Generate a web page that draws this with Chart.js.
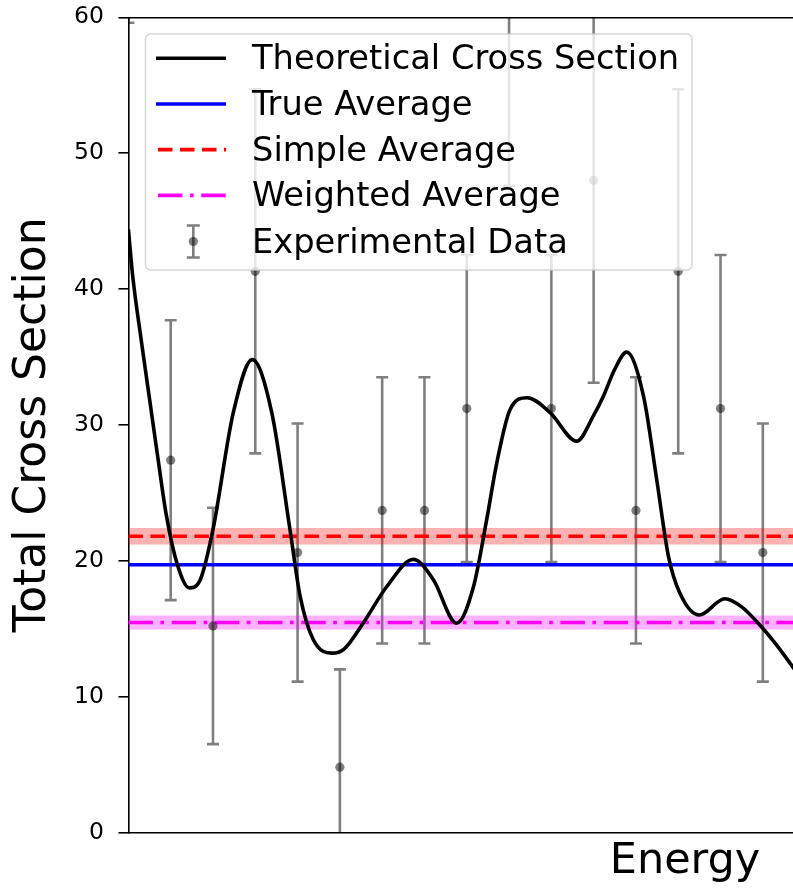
<!DOCTYPE html>
<html>
<head>
<meta charset="utf-8">
<script src="https://cdn.jsdelivr.net/npm/chart.js@4.4.1/dist/chart.umd.min.js"></script>
<style>
  html, body { margin: 0; padding: 0; background: #fff; }
  #wrap { width: 793px; height: 890px; overflow: hidden; position: relative; }
  canvas { display: block; }
</style>
</head>
<body>
<div id="wrap">
  <canvas id="crossChart" width="1250" height="890"></canvas>
</div>
<script>
// Energy axis runs past the cropped right edge (figure is cut at x ~ 15.7)
const X_MAX = 26.32;

// Theoretical cross section
const curveX = [0, 0.1, 0.3, 0.5, 0.7, 0.9, 1.15, 1.44, 1.7, 2.0, 2.48, 2.93, 3.39, 3.82, 4.06, 4.37, 4.81, 5.1, 5.55,
  6.11, 6.74, 7.21, 7.76, 8.16, 8.47, 8.71, 9.02, 9.43, 9.97, 10.6, 11.0, 11.23, 11.5, 11.78, 12.18, 12.49,
  12.77, 13.04, 13.5, 14.1, 14.5, 14.86, 15.3, 15.75];
const curveY = [44.4, 41.0, 36.3, 31.9, 27.5, 23.3, 19.8, 18.0, 18.6, 22.3, 30.9, 34.8, 30.9, 22.3, 17.4, 14.2, 13.2, 13.5, 15.4,
  18.1, 20.1, 18.6, 15.4, 18.1, 23.0, 27.2, 31.1, 32.0, 30.9, 28.8, 30.7, 32.1, 34.1, 35.35, 32.1, 26.0,
  20.3, 17.6, 16.0, 17.2, 16.6, 15.5, 13.9, 12.0];

// Experimental data with error bars
const expX = [0, 1, 2, 3, 4, 5, 6, 7, 8, 9, 10, 11, 12, 13, 14, 15];
const expY = [77, 27.4, 15.2, 41.3, 20.6, 4.8, 23.7, 23.7, 31.2, 63.3, 31.2, 48.0, 23.7, 41.3, 31.2, 20.6];
const expErr = [17.4, 10.3, 8.7, 13.4, 9.5, 7.2, 9.8, 9.8, 11.3, 15.7, 11.3, 14.9, 9.8, 13.4, 11.3, 9.5];

// Averages and their uncertainty bands
const trueAverage = 19.7;
const simpleAverage = 21.8;
const simpleAverageErr = 0.6;
const weightedAverage = 15.45;
const weightedAverageErr = 0.52;

const yTicks = [0, 10, 20, 30, 40, 50, 60];

const LW = 3.6;
const DASHED = [14.5, 7.5];
const DASHDOT = [24.5, 7.5, 3.7, 7.5];
const BAR_COLOR = 'rgba(0,0,0,0.5)';

function flat(v) {
    return [{ x: 0, y: v }, { x: X_MAX, y: v }];
}

Chart.defaults.font.family = '"DejaVu Sans", sans-serif';
Chart.defaults.color = '#000';

// Error bars under the markers
const errorBarPlugin = {
    id: 'errorBars',
    beforeDatasetsDraw(chart) {
        const { ctx, chartArea, scales: { x, y } } = chart;
        ctx.save();
        ctx.beginPath();
        ctx.rect(chartArea.left, chartArea.top, chartArea.right - chartArea.left, chartArea.bottom - chartArea.top);
        ctx.clip();
        ctx.strokeStyle = BAR_COLOR;
        ctx.lineWidth = 2.6;
        expX.forEach((xv, i) => {
            const px = x.getPixelForValue(xv);
            const top = y.getPixelForValue(expY[i] + expErr[i]);
            const bot = y.getPixelForValue(expY[i] - expErr[i]);
            ctx.beginPath();
            ctx.moveTo(px, top); ctx.lineTo(px, bot);
            ctx.moveTo(px - 6, top); ctx.lineTo(px + 6, top);
            ctx.moveTo(px - 6, bot); ctx.lineTo(px + 6, bot);
            ctx.stroke();
        });
        ctx.restore();
    }
};

// Matplotlib-like legend box in the upper left of the plot
const legendPlugin = {
    id: 'boxLegend',
    afterDraw(chart) {
        const ctx = chart.ctx;
        const box = { l: 145.5, t: 34, r: 692, b: 270, rad: 5 };
        ctx.save();
        ctx.beginPath();
        ctx.roundRect(box.l, box.t, box.r - box.l, box.b - box.t, box.rad);
        ctx.fillStyle = 'rgba(255,255,255,0.8)';
        ctx.fill();
        ctx.strokeStyle = 'rgba(204,204,204,0.8)';
        ctx.lineWidth = 1.5;
        ctx.stroke();

        const rows = [58.3, 104, 149.6, 195.4, 241.5];
        const labels = ['Theoretical Cross Section', 'True Average', 'Simple Average', 'Weighted Average', 'Experimental Data'];
        const hx0 = 156, hx1 = 226;

        ctx.lineWidth = LW;
        ctx.lineCap = 'butt';
        // curve
        ctx.strokeStyle = '#000';
        ctx.setLineDash([]);
        ctx.beginPath(); ctx.moveTo(hx0, rows[0]); ctx.lineTo(hx1, rows[0]); ctx.stroke();
        // true
        ctx.strokeStyle = '#0000ff';
        ctx.beginPath(); ctx.moveTo(hx0, rows[1]); ctx.lineTo(hx1, rows[1]); ctx.stroke();
        // simple
        ctx.strokeStyle = '#ff0000';
        ctx.setLineDash(DASHED);
        ctx.beginPath(); ctx.moveTo(158, rows[2]); ctx.lineTo(hx1, rows[2]); ctx.stroke();
        // weighted
        ctx.strokeStyle = '#ff00ff';
        ctx.setLineDash(DASHDOT);
        ctx.beginPath(); ctx.moveTo(158, rows[3]); ctx.lineTo(hx1, rows[3]); ctx.stroke();
        ctx.setLineDash([]);
        // error bar symbol
        const ex = 193.3, ey = rows[4];
        ctx.strokeStyle = BAR_COLOR;
        ctx.lineWidth = 2.6;
        ctx.beginPath();
        ctx.moveTo(ex, ey - 16); ctx.lineTo(ex, ey + 16);
        ctx.moveTo(ex - 6.5, ey - 16); ctx.lineTo(ex + 6.5, ey - 16);
        ctx.moveTo(ex - 6.5, ey + 16); ctx.lineTo(ex + 6.5, ey + 16);
        ctx.stroke();
        ctx.fillStyle = BAR_COLOR;
        ctx.beginPath(); ctx.arc(ex, ey, 4.6, 0, Math.PI * 2); ctx.fill();

        ctx.fillStyle = '#000';
        ctx.font = '33.7px "DejaVu Sans"';
        ctx.textBaseline = 'alphabetic';
        ctx.textAlign = 'left';
        labels.forEach((txt, i) => ctx.fillText(txt, 252, rows[i] + 11));
        ctx.restore();
    }
};

const ctx = document.getElementById('crossChart').getContext('2d');
new Chart(ctx, {
    type: 'scatter',
    data: {
        datasets: [
            {
                label: 'Theoretical Cross Section',
                data: curveX.map((v, i) => ({ x: v, y: curveY[i] })),
                showLine: true,
                borderColor: '#000',
                borderWidth: LW,
                pointRadius: 0,
                cubicInterpolationMode: 'monotone',
                fill: false
            },
            {
                label: 'Experimental Data',
                data: expX.map((v, i) => ({ x: v, y: expY[i] })),
                showLine: false,
                pointRadius: 4.6,
                pointBackgroundColor: BAR_COLOR,
                pointBorderWidth: 0,
                pointBorderColor: 'rgba(0,0,0,0)'
            },
            {
                label: 'True Average',
                data: flat(trueAverage),
                showLine: true,
                borderColor: '#0000ff',
                borderWidth: LW,
                pointRadius: 0
            },
            {
                label: 'Simple Average',
                data: flat(simpleAverage),
                showLine: true,
                borderColor: '#ff0000',
                borderWidth: LW,
                borderDash: DASHED,
                pointRadius: 0
            },
            {
                label: 'simple low',
                data: flat(simpleAverage - simpleAverageErr),
                showLine: true,
                borderWidth: 0,
                borderColor: 'rgba(0,0,0,0)',
                pointRadius: 0,
                fill: false
            },
            {
                label: 'simple high',
                data: flat(simpleAverage + simpleAverageErr),
                showLine: true,
                borderWidth: 0,
                borderColor: 'rgba(0,0,0,0)',
                pointRadius: 0,
                fill: '-1',
                backgroundColor: 'rgba(255,0,0,0.3)'
            },
            {
                label: 'Weighted Average',
                data: flat(weightedAverage),
                showLine: true,
                borderColor: '#ff00ff',
                borderWidth: LW,
                borderDash: DASHDOT,
                pointRadius: 0
            },
            {
                label: 'weighted low',
                data: flat(weightedAverage - weightedAverageErr),
                showLine: true,
                borderWidth: 0,
                borderColor: 'rgba(0,0,0,0)',
                pointRadius: 0,
                fill: false
            },
            {
                label: 'weighted high',
                data: flat(weightedAverage + weightedAverageErr),
                showLine: true,
                borderWidth: 0,
                borderColor: 'rgba(0,0,0,0)',
                pointRadius: 0,
                fill: '-1',
                backgroundColor: 'rgba(255,0,255,0.3)'
            }
        ]
    },
    options: {
        responsive: false,
        animation: false,
        devicePixelRatio: 1,
        layout: { padding: { top: 17.3, left: 0, right: 8.4, bottom: 0 } },
        plugins: {
            legend: { display: false },
            tooltip: { enabled: false }
        },
        scales: {
            x: {
                type: 'linear',
                position: 'bottom',
                min: 0,
                max: X_MAX,
                ticks: { display: false },
                grid: { display: false, drawTicks: false },
                border: { display: true, color: '#000', width: 1.6 },
                title: {
                    display: true,
                    text: 'Energy',
                    font: { size: 43 },
                    color: '#000',
                    padding: { top: 5, bottom: 2 }
                },
                afterFit(scale) { scale.height = 57.6; }
            },
            xTop: {
                type: 'linear',
                position: 'top',
                min: 0,
                max: X_MAX,
                ticks: { display: false },
                grid: { display: false, drawTicks: false },
                border: { display: true, color: '#000', width: 1.6 },
                afterFit(scale) { scale.height = 0; }
            },
            y: {
                type: 'linear',
                min: 0,
                max: 60,
                afterBuildTicks(scale) { scale.ticks = yTicks.map(v => ({ value: v })); },
                ticks: {
                    font: { size: 23.5 },
                    color: '#000',
                    padding: 14.5
                },
                grid: {
                    display: true,
                    drawOnChartArea: false,
                    drawTicks: true,
                    tickLength: 10,
                    tickColor: '#000',
                    lineWidth: 1.6
                },
                border: { display: true, color: '#000', width: 1.6 },
                title: {
                    display: true,
                    text: 'Total Cross Section',
                    font: { size: 44 },
                    color: '#000',
                    padding: { top: 7, bottom: 0 }
                },
                afterFit(scale) {
                    scale.width = 128.4;
                    // the top label may stick out above the plot, as in the reference
                    scale.paddingTop = 0;
                    scale.paddingBottom = 0;
                }
            }
        }
    },
    plugins: [errorBarPlugin, legendPlugin]
});
</script>
</body>
</html>
